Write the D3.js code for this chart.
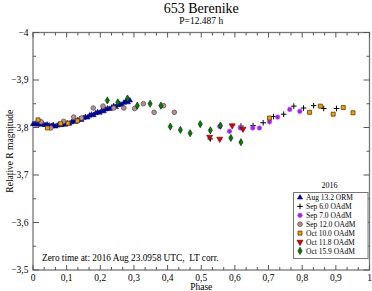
<!DOCTYPE html>
<html><head><meta charset="utf-8">
<script src="https://cdn.jsdelivr.net/npm/d3@7"></script>
<style>body{margin:0;background:#fff}svg{display:block}text{font-family:"Liberation Serif","DejaVu Serif",serif}</style>
</head><body><svg id="c" width="372" height="291"></svg>
<script>
const title = "653 Berenike";
const subtitle = "P=12.487 h";
const xTicks = [0,0.1,0.2,0.3,0.4,0.5,0.6,0.7,0.8,0.9,1];
const yTicks = [-4,-3.9,-3.8,-3.7,-3.6,-3.5];
const legendNames = ["Aug 13.2 ORM","Sep 6.0 OAdM","Sep 7.0 OAdM","Sep 12.0 OAdM","Oct 10.0 OAdM","Oct 11.8 OAdM","Oct 15.9 OAdM"];

const aug13 = [[0.000,-3.807],[0.006,-3.808],[0.012,-3.806],[0.018,-3.809],[0.024,-3.806],[0.030,-3.807],[0.036,-3.805],[0.042,-3.806],[0.048,-3.804],[0.054,-3.803],[0.060,-3.805],[0.066,-3.802],[0.072,-3.804],[0.078,-3.806],[0.084,-3.805],[0.090,-3.807],[0.096,-3.806],[0.102,-3.809],[0.108,-3.808],[0.114,-3.811],[0.120,-3.813],[0.126,-3.812],[0.132,-3.815],[0.138,-3.817],[0.144,-3.816],[0.150,-3.820],[0.156,-3.822],[0.162,-3.821],[0.168,-3.825],[0.174,-3.827],[0.180,-3.826],[0.186,-3.830],[0.192,-3.832],[0.198,-3.831],[0.204,-3.835],[0.210,-3.834],[0.216,-3.838],[0.222,-3.840],[0.228,-3.839],[0.234,-3.842],[0.240,-3.845],[0.246,-3.843],[0.252,-3.847],[0.258,-3.849],[0.264,-3.848],[0.270,-3.852],[0.276,-3.855],[0.282,-3.853],[0.288,-3.857]];
const sep6 = [[0.527,-3.776],[0.618,-3.803],[0.654,-3.804],[0.684,-3.810],[0.715,-3.823],[0.745,-3.828],[0.775,-3.845],[0.804,-3.841],[0.834,-3.846],[0.864,-3.840],[0.902,-3.840]];
const sep7 = [[0.555,-3.802],[0.584,-3.792],[0.616,-3.799],[0.653,-3.799],[0.673,-3.799],[0.703,-3.812],[0.727,-3.822],[0.763,-3.838],[0.793,-3.834]];
const sep12 = [[0.024,-3.812],[0.053,-3.799],[0.091,-3.813],[0.121,-3.822],[0.144,-3.820],[0.179,-3.841],[0.208,-3.845],[0.240,-3.841],[0.270,-3.841],[0.302,-3.840],[0.328,-3.850],[0.360,-3.832],[0.388,-3.846],[0.420,-3.832]];
const oct10 = [[0.015,-3.816],[0.043,-3.799],[0.082,-3.808],[0.104,-3.809],[0.132,-3.814],[0.703,-3.820],[0.822,-3.832],[0.854,-3.845],[0.892,-3.828],[0.922,-3.842],[0.951,-3.831]];
const oct11 = [[0.525,-3.780],[0.555,-3.776],[0.592,-3.804],[0.624,-3.797]];
const oct15 = [[0.221,-3.857],[0.252,-3.853],[0.281,-3.861],[0.310,-3.846],[0.348,-3.850],[0.380,-3.846],[0.408,-3.802],[0.438,-3.795],[0.467,-3.788],[0.497,-3.807],[0.527,-3.794],[0.557,-3.804],[0.588,-3.778],[0.618,-3.769]];

const svg = d3.select("#c");
const L=33, R=369.5, T=32.5, B=270;
const x = d3.scaleLinear().domain([0,1]).range([L,R]);
const y = d3.scaleLinear().domain([-4,-3.5]).range([T,B]);
const fmt = d => d3.format("")(+d.toFixed(1)).replace(".",",");

const plusPath = "M-2.8,0H2.8M0,-2.8V2.8";
const styles = [
  {data:aug13, sym:d3.symbolTriangle, size:12, fill:"#0000cc", stroke:"#000040", sw:0.5, rot:0},
  {data:sep6, sym:null, fill:"none", stroke:"#000", sw:1},
  {data:sep7, sym:d3.symbolCircle, size:17, fill:"#a020f0", stroke:"#c060ff", sw:0.5, rot:0},
  {data:sep12, sym:d3.symbolCircle, size:17, fill:"#bc8f8f", stroke:"#555", sw:0.8, rot:0},
  {data:oct10, sym:d3.symbolSquare, size:16, fill:"#f0a000", stroke:"#5a3a00", sw:0.8, rot:0},
  {data:oct11, sym:d3.symbolTriangle, size:16, fill:"#e00000", stroke:"#500", sw:0.6, rot:180},
  {data:oct15, sym:d3.symbolDiamond, size:15, fill:"#008000", stroke:"#002000", sw:0.6, rot:0}
];

// frame
svg.append("rect").attr("x",L).attr("y",T).attr("width",R-L).attr("height",B-T)
  .attr("fill","none").attr("stroke","#777").attr("stroke-width",1.3);

// ticks
const xMinor = d3.range(0,30).map(i=>i/30).filter(v=>Math.round(v*30)%3!==0);
const yMinor = d3.range(-4,-3.5,0.05).map(v=>+v.toFixed(2)).filter(v=>Math.round(v*100)%10!==0);
const tk = svg.append("g").attr("stroke","#555").attr("stroke-width",1);
xTicks.forEach(v=>{tk.append("line").attr("x1",x(v)).attr("x2",x(v)).attr("y1",B).attr("y2",B-5);
  tk.append("line").attr("x1",x(v)).attr("x2",x(v)).attr("y1",T).attr("y2",T+5);});
xMinor.forEach(v=>{tk.append("line").attr("x1",x(v)).attr("x2",x(v)).attr("y1",B).attr("y2",B-3);
  tk.append("line").attr("x1",x(v)).attr("x2",x(v)).attr("y1",T).attr("y2",T+3);});
yTicks.forEach(v=>{tk.append("line").attr("x1",L).attr("x2",L+6).attr("y1",y(v)).attr("y2",y(v));
  tk.append("line").attr("x1",R).attr("x2",R-6).attr("y1",y(v)).attr("y2",y(v));});
yMinor.forEach(v=>{tk.append("line").attr("x1",L).attr("x2",L+3).attr("y1",y(v)).attr("y2",y(v));
  tk.append("line").attr("x1",R).attr("x2",R-3).attr("y1",y(v)).attr("y2",y(v));});

svg.append("g").selectAll("text").data(xTicks).join("text")
  .attr("x",d=>x(d)).attr("y",280.5).attr("text-anchor","middle").attr("font-size",9.5).text(fmt);
svg.append("g").selectAll("text").data(yTicks).join("text")
  .attr("x",28.5).attr("y",d=>y(d)+3.3).attr("text-anchor","end").attr("font-size",9.5).text(fmt);

svg.append("text").attr("x",(L+R)/2).attr("y",13).attr("text-anchor","middle").attr("font-size",14).text(title);
svg.append("text").attr("x",(L+R)/2).attr("y",24).attr("text-anchor","middle").attr("font-size",9.5).text(subtitle);
svg.append("text").attr("x",(L+R)/2).attr("y",289.5).attr("text-anchor","middle").attr("font-size",9.5).text("Phase");
svg.append("text").attr("transform",`translate(12.5,${(T+B)/2}) rotate(-90)`).attr("text-anchor","middle").attr("font-size",9.5).text("Relative R magnitude");
svg.append("text").attr("x",42).attr("y",261).attr("font-size",9.3).attr("xml:space","preserve").text("Zero time at: 2016 Aug 23.0958 UTC,  LT corr.");

function drawSym(g, s, px, py){
  if(!s.sym){
    return g.append("path").attr("d",plusPath).attr("transform",`translate(${px},${py})`)
      .attr("stroke",s.stroke).attr("stroke-width",s.sw).attr("fill","none");
  }
  return g.append("path").attr("d",d3.symbol().type(s.sym).size(s.size)())
    .attr("transform",`translate(${px},${py}) rotate(${s.rot})`)
    .attr("fill",s.fill).attr("stroke",s.stroke).attr("stroke-width",s.sw);
}

const pts = svg.append("g");
styles.forEach(s=>{
  s.data.forEach(d=>drawSym(pts, s, x(d[0]), y(d[1])));
});

// legend
const lg = svg.append("g");
lg.append("rect").attr("x",293.5).attr("y",192.5).attr("width",74.5).attr("height",66)
  .attr("fill","#fff").attr("stroke","#777").attr("stroke-width",1);
lg.append("text").attr("x",329.5).attr("y",187.5).attr("text-anchor","middle").attr("font-size",8).text("2016");
legendNames.forEach((n,i)=>{
  const yy = 197.5 + i*8.9;
  drawSym(lg, styles[i], 300, yy);
  lg.append("text").attr("x",306).attr("y",yy+2.6).attr("font-size",7.5).text(n);
});
</script></body></html>
